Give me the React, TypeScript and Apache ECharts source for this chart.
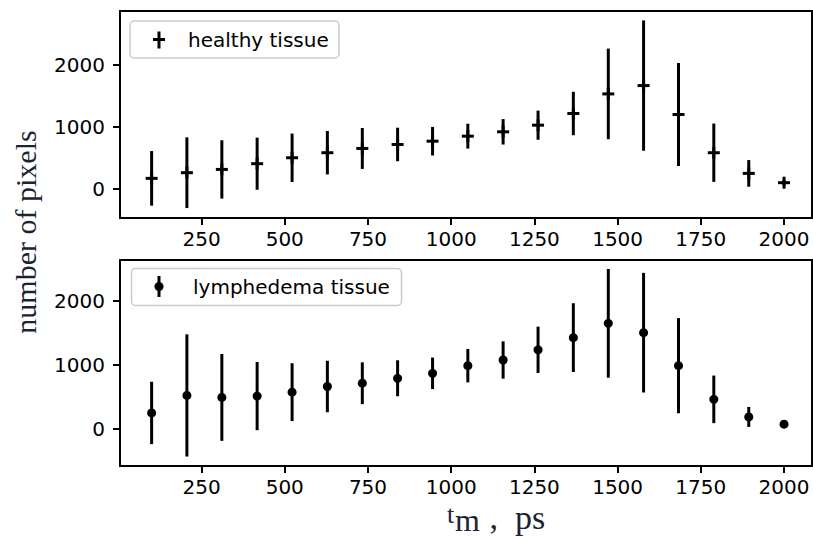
import React, { useEffect, useRef } from "react";
import * as echarts from "echarts";

const tm = [100, 206, 311, 417, 522, 628, 733, 839, 944, 1050, 1156, 1261, 1367, 1472, 1578, 1683, 1789, 1894, 2000];
const healthy = [166, 257, 310, 402, 498, 579, 648, 712, 765, 846, 916, 1023, 1211, 1527, 1661, 1195, 579, 246, 96];
const healthyErr = [440, 570, 470, 420, 390, 350, 330, 270, 230, 200, 205, 235, 350, 730, 1050, 830, 470, 215, 50];
const lymph = [252, 524, 493, 514, 575, 663, 714, 791, 868, 987, 1075, 1234, 1423, 1645, 1500, 987, 463, 190, 77];
const lymphErr = [485, 950, 675, 530, 450, 400, 325, 280, 245, 260, 290, 360, 535, 845, 930, 740, 370, 155, 20];
const xTicks = [250, 500, 750, 1000, 1250, 1500, 1750, 2000];
const yTicks = [0, 1000, 2000];
const legendNames = ["healthy tissue", "lymphedema tissue"];
const yLabel = "number of pixels";
const xLabelParts = ["t", "m", " ,  ps"];

const FONT = "DejaVu Sans";
const SERIF = "Liberation Serif";
const LABEL_COLOR = "#1c2333";

function makeRender(kind: "plus" | "dot") {
  return (params: any, api: any) => {
    const x = api.value(0);
    const y = api.value(1);
    const e = api.value(2);
    const c = api.coord([x, y]);
    const t = api.coord([x, y + e]);
    const b = api.coord([x, y - e]);
    const children: any[] = [
      {
        type: "line",
        shape: { x1: c[0], y1: t[1], x2: c[0], y2: b[1] },
        style: { stroke: "#000", lineWidth: 3 },
      },
    ];
    if (kind === "plus") {
      children.push({
        type: "line",
        shape: { x1: c[0] - 6, y1: c[1], x2: c[0] + 6, y2: c[1] },
        style: { stroke: "#000", lineWidth: 3 },
      });
      children.push({
        type: "line",
        shape: { x1: c[0], y1: c[1] - 6, x2: c[0], y2: c[1] + 6 },
        style: { stroke: "#000", lineWidth: 3 },
      });
    } else {
      children.push({
        type: "circle",
        shape: { cx: c[0], cy: c[1], r: 4.5 },
        style: { fill: "#000" },
      });
    }
    return { type: "group", children };
  };
}

const fmt = (v: number) => String(v);

function xAxisDef(gridIndex: number) {
  return {
    type: "value",
    gridIndex,
    min: 5,
    max: 2084,
    splitLine: { show: false },
    axisLine: { show: false, onZero: false },
    axisTick: { show: true, length: 7, lineStyle: { color: "#000", width: 2 }, customValues: xTicks },
    axisLabel: { customValues: xTicks, formatter: fmt, margin: 11, fontSize: 20, fontFamily: FONT, color: "#000" },
  };
}

function yAxisDef(gridIndex: number, min: number, max: number) {
  return {
    type: "value",
    gridIndex,
    min,
    max,
    splitLine: { show: false },
    axisLine: { show: false, onZero: false },
    axisTick: { show: true, length: 7, lineStyle: { color: "#000", width: 2 }, customValues: yTicks },
    axisLabel: { customValues: yTicks, formatter: fmt, margin: 15, fontSize: 20, fontFamily: FONT, color: "#000" },
  };
}

function txt(text: string, x: number, y: number, size: number, family: string, color: string, align = "left", extra: any = {}, lineHeight?: number) {
  const style: any = {
    text,
    fontSize: size,
    fontFamily: family,
    fill: color,
    align,
    verticalAlign: "middle",
    textAlign: align,
    textVerticalAlign: "middle",
  };
  if (lineHeight) style.lineHeight = lineHeight;
  return { type: "text", x, y, ...extra, style };
}

export default function App() {
  const ref = useRef<HTMLDivElement>(null);
  useEffect(() => {
    if (!ref.current) return;
    const chart = echarts.init(ref.current, null, { renderer: "svg" });
    const option: any = {
      animation: false,
      backgroundColor: "#fff",
      grid: [
        { left: 120, top: 11, width: 692, height: 207, show: true, borderColor: "#000", borderWidth: 2, backgroundColor: "transparent" },
        { left: 120, top: 260, width: 692, height: 206, show: true, borderColor: "#000", borderWidth: 2, backgroundColor: "transparent" },
      ],
      xAxis: [xAxisDef(0), xAxisDef(1)],
      yAxis: [yAxisDef(0, -473, 2863), yAxisDef(1, -573, 2630)],
      series: [
        {
          type: "custom",
          name: legendNames[0],
          xAxisIndex: 0,
          yAxisIndex: 0,
          encode: { x: 0, y: 1 },
          renderItem: makeRender("plus"),
          data: tm.map((x, i) => [x, healthy[i], healthyErr[i]]),
        },
        {
          type: "custom",
          name: legendNames[1],
          xAxisIndex: 1,
          yAxisIndex: 1,
          encode: { x: 0, y: 1 },
          renderItem: makeRender("dot"),
          data: tm.map((x, i) => [x, lymph[i], lymphErr[i]]),
        },
      ],
      graphic: [
        {
          type: "rect",
          shape: { x: 130, y: 21, width: 209, height: 37, r: 4 },
          style: { fill: "rgba(255,255,255,0.8)", stroke: "#cccccc", lineWidth: 1.5 },
          z: 10,
        },
        { type: "line", shape: { x1: 159, y1: 31.5, x2: 159, y2: 48.5 }, style: { stroke: "#000", lineWidth: 3 }, z: 11 },
        { type: "line", shape: { x1: 153, y1: 39.5, x2: 165, y2: 39.5 }, style: { stroke: "#000", lineWidth: 3 }, z: 11 },
        { ...txt(legendNames[0], 188, 39.5, 20, FONT, "#000"), z: 11 },
        {
          type: "rect",
          shape: { x: 131.5, y: 268.5, width: 270, height: 37, r: 4 },
          style: { fill: "rgba(255,255,255,0.8)", stroke: "#cccccc", lineWidth: 1.5 },
          z: 10,
        },
        { type: "line", shape: { x1: 159, y1: 276, x2: 159, y2: 297 }, style: { stroke: "#000", lineWidth: 3 }, z: 11 },
        { type: "circle", shape: { cx: 159, cy: 286.5, r: 4.5 }, style: { fill: "#000" }, z: 11 },
        { ...txt(legendNames[1], 193, 286.5, 20, FONT, "#000"), z: 11 },
        txt(yLabel, 25, 232, 30, SERIF, LABEL_COLOR, "center", { rotation: Math.PI / 2 }),
        txt(xLabelParts[0], 447, 514, 26, SERIF, LABEL_COLOR, "left", {}, 20),
        txt(xLabelParts[1], 455, 520, 32, SERIF, LABEL_COLOR, "left", {}, 22),
        txt(xLabelParts[2], 481, 517, 34, SERIF, LABEL_COLOR, "left", {}, 24),
      ],
    };
    chart.setOption(option);
    return () => chart.dispose();
  }, []);
  return (
    <div
      ref={ref}
      style={{ position: "fixed", left: 0, top: 0, width: 813, height: 538, background: "#fff" }}
    />
  );
}
